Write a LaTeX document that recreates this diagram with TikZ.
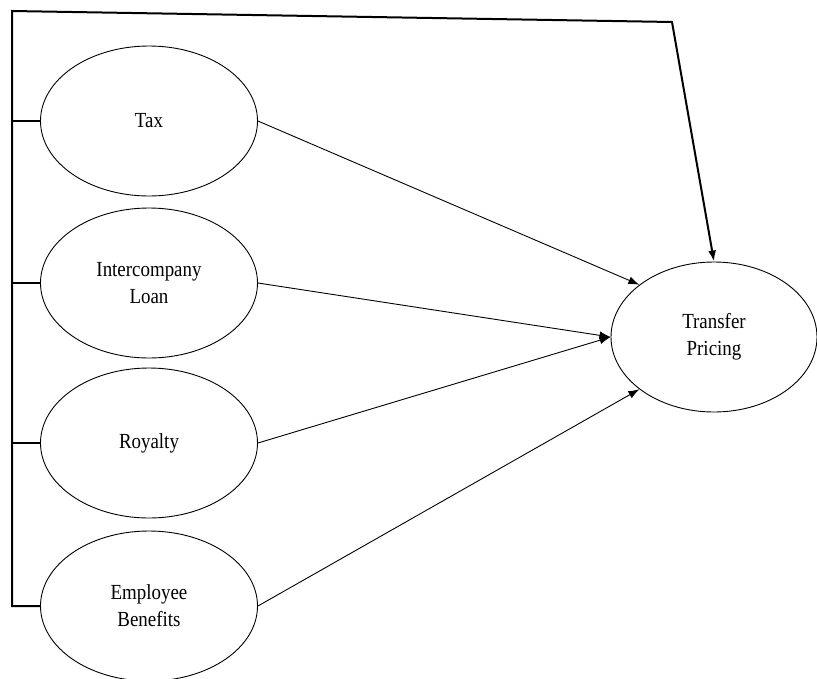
\documentclass[tikz,border=0pt]{standalone}
\usepackage{fontspec}
\setmainfont{Liberation Serif}[FakeStretch=0.88]
\usetikzlibrary{shapes.geometric,arrows.meta}
\begin{document}
\begin{tikzpicture}[x=1pt,y=-1pt,
  oval/.style={draw,line width=0.9pt,ellipse,inner sep=0pt,minimum width=217pt,minimum height=150pt,align=center,
    font=\fontsize{21.5}{27}\selectfont},
  frame/.style={line width=2pt,line join=miter},
  conn/.style={line width=0.9pt,-{Latex[length=11pt,width=8pt]}}]
\useasboundingbox (0,0) rectangle (817,678);
\node[oval] (tax) at (149,121) {Tax};
\node[oval] (loan) at (149,283) {Intercompany\\Loan};
\node[oval] (roy) at (149,443) {Royalty};
\node[oval] (emp) at (149,606) {Employee\\Benefits};
\node[oval,minimum width=206pt] (tp) at (714,337) {Transfer\\Pricing};
\coordinate (topL) at (12,11);
\coordinate (bend) at (672,22);
\draw[frame,-{Latex[length=11pt,width=8pt]}] (emp.west) -| (topL) -- (bend) -- (tp.north);
\draw[frame] (tax.west) -- (tax.west -| topL);
\draw[frame] (loan.west) -- (loan.west -| topL);
\draw[frame] (roy.west) -- (roy.west -| topL);
\draw[conn] (tax.east) -- (tp.145);
\draw[conn] (loan.east) -- (tp.west);
\draw[conn] (roy.east) -- (tp.west);
\draw[conn] (emp.east) -- (tp.215);
\end{tikzpicture}
\end{document}
